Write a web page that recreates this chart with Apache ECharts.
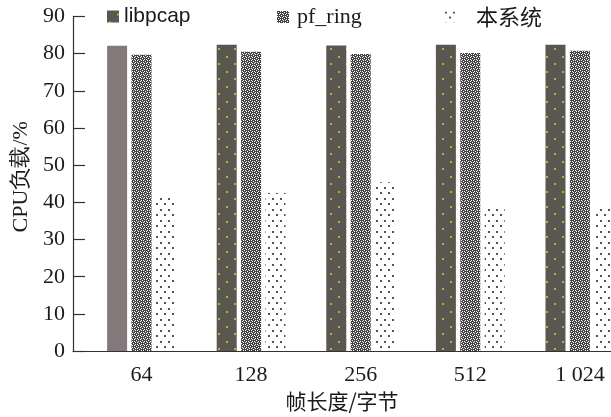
<!DOCTYPE html>
<html><head><meta charset="utf-8">
<script src="https://cdn.jsdelivr.net/npm/echarts@6/dist/echarts.min.js"></script>
<style>html,body{margin:0;padding:0;background:#fff}#c{width:611px;height:417px}</style>
</head><body><div id="c"></div>
<script>
// ---- data ----
const categories = ['64', '128', '256', '512', '1 024'];
const seriesNames = ['libpcap', 'pf_ring', '本系统'];
const libpcap = [82.1, 82.4, 82.2, 82.4, 82.4];
const pfRing = [79.7, 80.5, 79.9, 80.2, 80.8];
const ourSystem = [41.4, 42.5, 45.4, 39.3, 39.3];
const yTickLabels = ['0', '10', '20', '30', '40', '50', '60', '70', '80', '90'];
const xTitle = '帧长度/字节';
const yTitle = 'CPU负载/%';

// ---- patterns ----
function makeTile(w, h, bg, draw) {
  const c = document.createElement('canvas');
  c.width = w; c.height = h;
  const g = c.getContext('2d');
  if (bg) { g.fillStyle = bg; g.fillRect(0, 0, w, h); }
  draw(g);
  return c;
}
const libTile = makeTile(16, 15, '#5c5651', g => {
  g.fillStyle = '#86c83a';
  g.fillRect(10, 3, 2, 2);
  g.fillRect(2, 11, 2, 2);
});
const pfTile = makeTile(6, 6, '#ffffff', g => {
  g.fillStyle = '#444444';
  g.fillRect(0, 0, 3, 3);
  g.fillRect(3, 3, 3, 3);
  g.fillRect(3, 1, 3, 1);
  g.fillRect(4, 0, 1, 3);
  g.fillRect(0, 4, 3, 1);
  g.fillRect(1, 3, 1, 3);
  g.fillStyle = '#ffffff';
  g.fillRect(1, 1, 1, 1);
  g.fillRect(4, 4, 1, 1);
});
const ourTile = makeTile(8, 11, '#ffffff', g => {
  g.fillStyle = '#555555';
  g.fillRect(0, 0, 2, 2);
  g.fillRect(4, 5, 2, 2);
});
const pat = t => ({ image: t, repeat: 'repeat' });

const serif = 'Liberation Serif, Times New Roman, serif';
const cjk = 'Noto Sans CJK SC, sans-serif';

const chart = echarts.init(document.getElementById('c'), null, { renderer: 'canvas' });
const legendBase = { top: 6, padding: 0, icon: 'rect', itemWidth: 12, itemHeight: 12,
  textStyle: { color: '#1a1a1a', fontSize: 22, fontFamily: serif } };

chart.setOption({
  animation: false,
  backgroundColor: '#fff',
  grid: { left: 73, right: 0, top: 16.5, bottom: 62.7, containLabel: false },
  legend: [
    Object.assign({}, legendBase, { data: [seriesNames[0]], left: 107,
      textStyle: { color: '#1a1a1a', fontSize: 21, fontFamily: 'Liberation Sans, Arial, sans-serif' } }),
    Object.assign({}, legendBase, { data: [seriesNames[1]], left: 277,
      textStyle: { color: '#1a1a1a', fontSize: 22, fontFamily: serif, padding: [0, 0, 0, 3] } }),
    Object.assign({}, legendBase, { data: [seriesNames[2]], left: 445, itemWidth: 11, itemHeight: 11,
      textStyle: { color: '#1a1a1a', fontSize: 22, fontFamily: cjk, padding: [0, 0, 0, 15] } })
  ],
  xAxis: {
    type: 'value', min: -0.625, max: 4.284,
    name: xTitle, nameLocation: 'middle', nameGap: 38,
    nameTextStyle: { color: '#1a1a1a', fontSize: 21, fontFamily: cjk },
    axisLine: { show: true, onZero: false, lineStyle: { color: '#333', width: 1.2 } },
    axisTick: { show: false },
    splitLine: { show: false },
    axisLabel: {
      customValues: [0, 1, 2, 3, 4],
      formatter: v => categories[Math.round(v)],
      color: '#1a1a1a', fontSize: 22, fontFamily: serif, margin: 13
    }
  },
  yAxis: {
    type: 'value', min: 0, max: 90, interval: 10,
    name: yTitle, nameLocation: 'middle', nameGap: 41,
    nameTextStyle: { color: '#1a1a1a', fontSize: 22, fontFamily: serif, padding: [0, 0, 0, 14] },
    axisLine: { show: true, onZero: false, lineStyle: { color: '#333', width: 1.2 } },
    axisTick: { show: true, inside: true, length: 12, lineStyle: { color: '#333', width: 1.2 } },
    splitLine: { show: false },
    axisLabel: { formatter: v => yTickLabels[Math.round(v / 10)], color: '#1a1a1a',
      fontSize: 22, fontFamily: serif, margin: 8 }
  },
  series: [
    { name: seriesNames[0], type: 'bar', barWidth: 20, barGap: '22%',
      itemStyle: { color: pat(libTile) },
      data: libpcap.map((v, i) => i === 0 ? { value: [i, v], itemStyle: { color: '#83797a' } } : [i, v]) },
    { name: seriesNames[1], type: 'bar', barWidth: 20, barGap: '22%',
      itemStyle: { color: pat(pfTile) },
      data: pfRing.map((v, i) => [i, v]) },
    { name: seriesNames[2], type: 'bar', barWidth: 20, barGap: '22%',
      itemStyle: { color: pat(ourTile) },
      data: ourSystem.map((v, i) => [i, v]) }
  ]
});
</script>
</body></html>
